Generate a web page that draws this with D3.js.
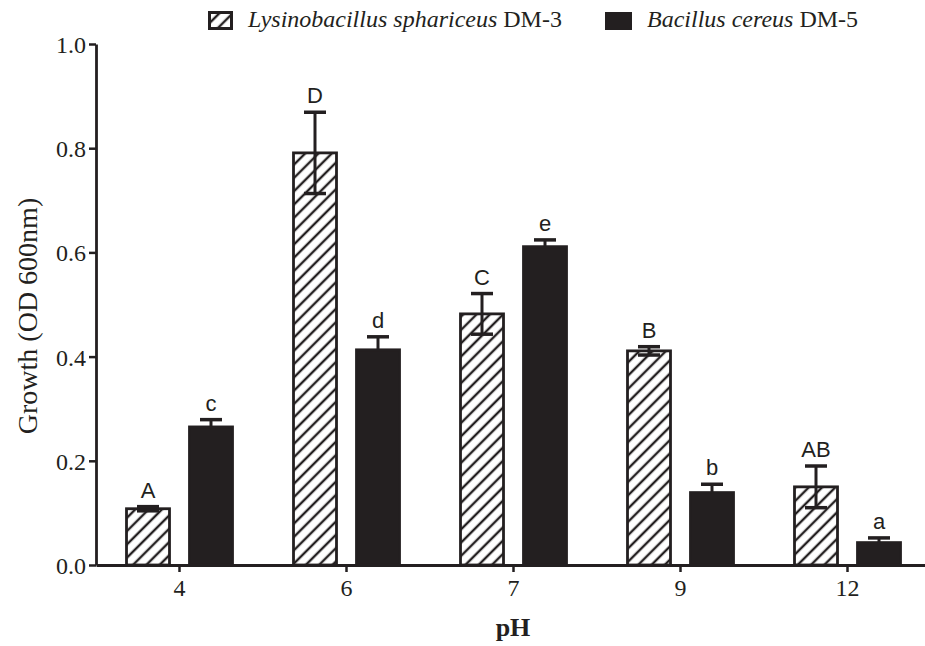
<!DOCTYPE html>
<html>
<head>
<meta charset="utf-8">
<script src="https://cdn.jsdelivr.net/npm/d3@7"></script>
<style>
body { margin: 0; background: #fff; }
svg { display: block; }
.serif { font-family: 'Liberation Serif', 'Times New Roman', serif; }
.sans { font-family: 'Liberation Sans', Arial, sans-serif; }
</style>
</head>
<body>
<svg id="chart" width="925" height="646"></svg>
<script>
var categories = ["4", "6", "7", "9", "12"];
var seriesNames = ["Lysinobacillus sphariceus", "Bacillus cereus"];
var strainTags = ["DM-3", "DM-5"];
var dm3Values = [0.108, 0.791, 0.482, 0.411, 0.150];
var dm3Errors = [0.004, 0.078, 0.039, 0.008, 0.040];
var dm3Letters = ["A", "D", "C", "B", "AB"];
var dm5Values = [0.265, 0.413, 0.611, 0.139, 0.043];
var dm5Errors = [0.014, 0.025, 0.013, 0.016, 0.009];
var dm5Letters = ["c", "d", "e", "b", "a"];
var yTicks = [0, 0.2, 0.4, 0.6, 0.8, 1.0];

var ink = "#231f20";
var svg = d3.select("#chart");

// hatch pattern for DM-3
var defs = svg.append("defs");
defs.append("pattern")
    .attr("id", "hatch")
    .attr("patternUnits", "userSpaceOnUse")
    .attr("width", 9.4)
    .attr("height", 9.4)
    .attr("patternTransform", "rotate(45)")
  .append("line")
    .attr("x1", 4.7).attr("y1", 0)
    .attr("x2", 4.7).attr("y2", 9.4)
    .attr("stroke", ink)
    .attr("stroke-width", 2.4);

var x = d3.scaleBand().domain(categories).range([96, 931]);
var y = d3.scaleLinear().domain([0, 1]).range([565, 44]);

var series = [
    {values: dm3Values, errors: dm3Errors, letters: dm3Letters, offset: -31.5, fill: "url(#hatch)"},
    {values: dm5Values, errors: dm5Errors, letters: dm5Letters, offset: 31.5, fill: ink}
];
var barW = 43;

series.forEach(function(s){
    var data = categories.map(function(c, i){
        return {cat: c, v: s.values[i], e: s.errors[i], l: s.letters[i]};
    });
    var cx = function(d){ return x(d.cat) + x.bandwidth()/2 + s.offset; };
    var hatched = s.fill != ink;

    var g = svg.append("g");
    g.selectAll("rect").data(data).enter().append("rect")
        .attr("x", function(d){ return cx(d) - barW/2; })
        .attr("y", function(d){ return y(d.v); })
        .attr("width", barW)
        .attr("height", function(d){ return y(0) - y(d.v); })
        .attr("fill", s.fill)
        .attr("stroke", ink)
        .attr("stroke-width", 2.8);

    // error bars: hatched bars show both whiskers, black bars only the upper one
    g.selectAll("line.err").data(data).enter().append("line")
        .attr("class", "err")
        .attr("x1", cx).attr("x2", cx)
        .attr("y1", function(d){ return y(d.v + d.e); })
        .attr("y2", function(d){ return hatched ? y(d.v - d.e) : y(d.v); })
        .attr("stroke", ink).attr("stroke-width", 3);

    g.selectAll("line.capTop").data(data).enter().append("line")
        .attr("class", "capTop")
        .attr("x1", function(d){ return cx(d) - 11; })
        .attr("x2", function(d){ return cx(d) + 11; })
        .attr("y1", function(d){ return y(d.v + d.e); })
        .attr("y2", function(d){ return y(d.v + d.e); })
        .attr("stroke", ink).attr("stroke-width", 3.5);

    if (hatched) {
        g.selectAll("line.capBot").data(data).enter().append("line")
            .attr("class", "capBot")
            .attr("x1", function(d){ return cx(d) - 11; })
            .attr("x2", function(d){ return cx(d) + 11; })
            .attr("y1", function(d){ return y(d.v - d.e); })
            .attr("y2", function(d){ return y(d.v - d.e); })
            .attr("stroke", ink).attr("stroke-width", 3.5);
    }

    g.selectAll("text").data(data).enter().append("text")
        .attr("class", "sans")
        .attr("x", cx)
        .attr("y", function(d){ return y(d.v + d.e) - 9; })
        .attr("text-anchor", "middle")
        .style("font-size", "22px")
        .attr("fill", ink)
        .text(function(d){ return d.l; });
});

// axes
var yAxis = svg.append("g")
    .attr("transform", "translate(96,0)")
    .call(d3.axisLeft(y).tickValues(yTicks).tickFormat(d3.format(".1f")).tickSize(7).tickSizeOuter(0));
var xAxis = svg.append("g")
    .attr("transform", "translate(0," + y(0) + ")")
    .call(d3.axisBottom(x).tickSize(7).tickSizeOuter(0));

[yAxis, xAxis].forEach(function(a){
    a.attr("font-family", null).attr("font-size", null);
    a.select(".domain").attr("stroke", ink).attr("stroke-width", 2.8);
    a.selectAll(".tick line").attr("stroke", ink).attr("stroke-width", 2.5);
    a.selectAll(".tick text")
        .attr("class", "serif")
        .style("font-size", "24px")
        .attr("fill", ink);
});
yAxis.selectAll(".tick text").attr("x", -10).attr("dy", "0.35em");
xAxis.selectAll(".tick text").attr("y", 14);

// axis titles
svg.append("text")
    .attr("class", "serif")
    .attr("transform", "translate(37,316) rotate(-90)")
    .attr("text-anchor", "middle")
    .style("font-size", "28px")
    .attr("fill", ink)
    .text("Growth (OD 600nm)");

svg.append("text")
    .attr("class", "serif")
    .attr("x", 513).attr("y", 636)
    .attr("text-anchor", "middle")
    .style("font-weight", "bold")
    .style("font-size", "26px")
    .attr("fill", ink)
    .text("pH");

// legend
var legendBox = [[208, 11, 25, 19], [605, 12, 27, 18]];
var legendTextX = [248, 647];
var legendFill = ["url(#hatch)", ink];
seriesNames.forEach(function(name, i){
    var b = legendBox[i];
    svg.append("rect")
        .attr("x", b[0] + 1.5).attr("y", b[1] + 1.5)
        .attr("width", b[2] - 3).attr("height", b[3] - 3)
        .attr("fill", legendFill[i])
        .attr("stroke", ink).attr("stroke-width", 3);
    var t = svg.append("text")
        .attr("class", "serif")
        .attr("x", legendTextX[i]).attr("y", 27)
        .style("font-size", "24px")
        .attr("fill", ink);
    t.append("tspan").style("font-style", "italic").text(name);
    t.append("tspan").text(" " + strainTags[i]);
});
</script>
</body>
</html>
